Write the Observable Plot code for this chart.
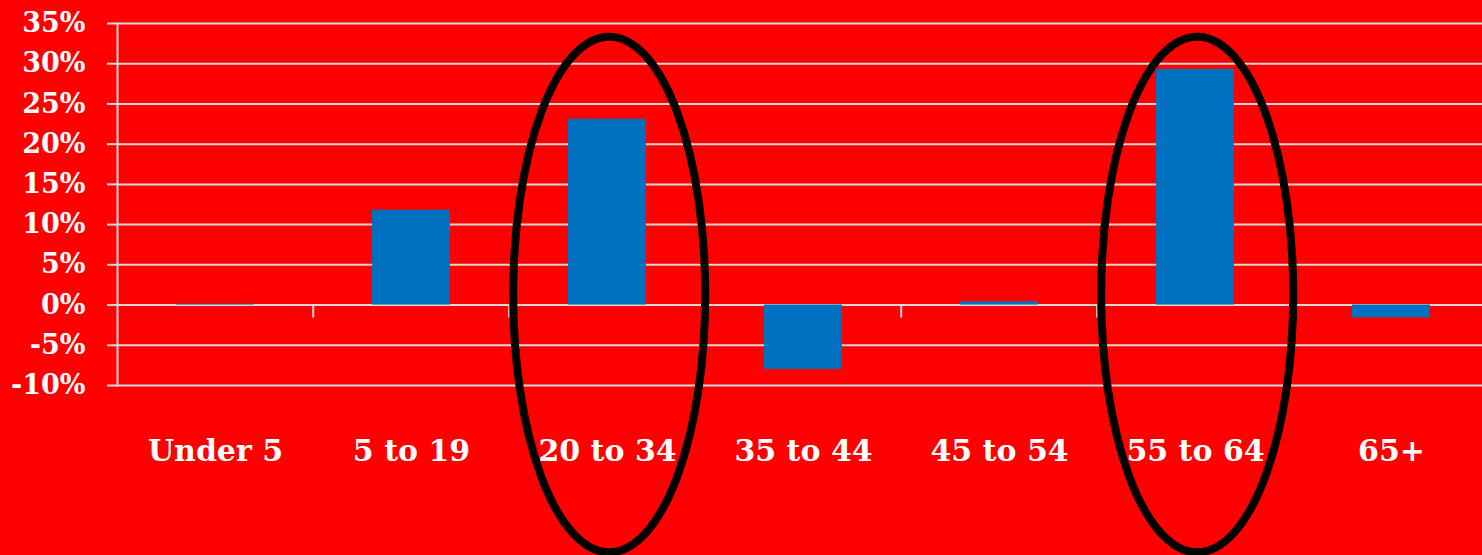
<!DOCTYPE html>
<html>
<head>
<meta charset="utf-8">
<script src="https://cdn.jsdelivr.net/npm/d3@7"></script>
<script src="https://cdn.jsdelivr.net/npm/@observablehq/plot@0.6"></script>
<style>
  html, body { margin: 0; padding: 0; background: #ff0000; }
  #chart svg { display: block; background: #ff0000; }
</style>
</head>
<body>
<div id="chart"></div>
<script>
// Population change by age group, in percent
const ageGroups = ["Under 5", "5 to 19", "20 to 34", "35 to 44", "45 to 54", "55 to 64", "65+"];
const percentChange = [0.1, 11.8, 23.1, -8.0, 0.4, 29.3, -1.6];
const yTicks = [-10, -5, 0, 5, 10, 15, 20, 25, 30, 35];
const circledGroups = ["20 to 34", "55 to 64"];

const rows = ageGroups.map((age, i) => ({age, value: percentChange[i]}));

const font = "'DejaVu Serif', serif";
const gridColor = "#d9d9d9";
const barPadding = 0.6;

// Band geometry read back from the x scale
function bandGeometry(x) {
  const step = x(ageGroups[1]) - x(ageGroups[0]);
  const bw = step * (1 - barPadding);
  return {step, center: a => x(a) + bw / 2};
}

// Small ticks on the zero line between age groups
function boundaryTicks(index, scales) {
  const x = scales.x, y = scales.y;
  const {step, center} = bandGeometry(x);
  const g = d3.create("svg:g");
  ageGroups.forEach((a, i) => {
    if (i === 0) return;
    const bx = center(a) - step / 2;
    g.append("line")
      .attr("x1", bx).attr("x2", bx)
      .attr("y1", y(0)).attr("y2", y(0) + 13)
      .attr("stroke", gridColor).attr("stroke-width", 2);
  });
  return g.node();
}

// Ellipses around the highlighted groups
function highlightEllipses(index, scales) {
  const x = scales.x, y = scales.y;
  const {step, center} = bandGeometry(x);
  const top = y(33.3), bottom = y(-30.8);
  const g = d3.create("svg:g");
  circledGroups.forEach(a => {
    g.append("ellipse")
      .attr("cx", center(a) + 2)
      .attr("cy", (top + bottom) / 2)
      .attr("rx", step * 0.49)
      .attr("ry", (bottom - top) / 2)
      .attr("fill", "none")
      .attr("stroke", "#000")
      .attr("stroke-width", 8);
  });
  return g.node();
}

const chart = Plot.plot({
  width: 1482,
  height: 555,
  marginLeft: 117,
  marginRight: -8,
  marginTop: 23,
  marginBottom: 170,
  style: {background: "#ff0000", color: "#fff", fontFamily: font, overflow: "visible"},
  x: {domain: ageGroups, paddingInner: barPadding, paddingOuter: barPadding / 2, axis: null},
  y: {domain: [-10, 35], axis: null},
  marks: [
    Plot.ruleY(yTicks, {stroke: gridColor, strokeWidth: 2}),
    Plot.axisY({
      ticks: yTicks,
      label: null,
      tickSize: 10,
      tickPadding: 22,
      stroke: gridColor,
      strokeWidth: 2,
      strokeOpacity: 1,
      tickFormat: d => d + "%",
      fontSize: 27,
      fontWeight: "bold",
      fill: "#fff",
      fontFamily: font
    }),
    Plot.frame({anchor: "left", stroke: gridColor, strokeWidth: 2}),
    boundaryTicks,
    Plot.barY(rows, {x: "age", y: "value", fill: "#0070c0"}),
    Plot.text(ageGroups, {
      x: d => d,
      frameAnchor: "bottom",
      dy: 66,
      lineAnchor: "middle",
      text: d => d,
      fill: "#fff",
      fontSize: 30,
      fontWeight: "bold",
      fontFamily: font
    }),
    highlightEllipses
  ]
});

document.getElementById("chart").append(chart);
</script>
</body>
</html>
